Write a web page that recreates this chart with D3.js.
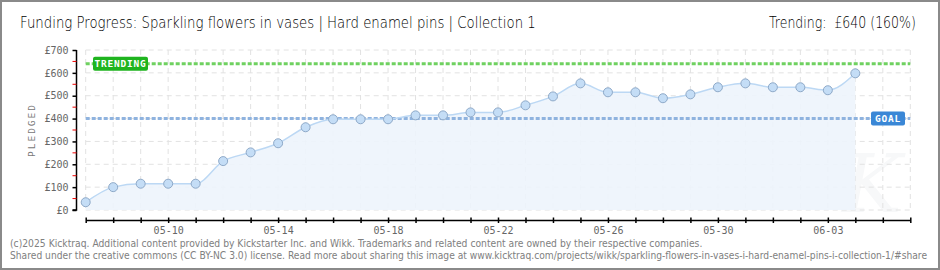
<!DOCTYPE html>
<html>
<head>
<meta charset="utf-8">
<script src="https://cdn.jsdelivr.net/npm/d3@7"></script>
<style>
  body { margin: 0; background: #fff; }
  svg { display: block; }
</style>
</head>
<body>
<div id="chart"></div>
<script>
// values
const dates = ["05-07","05-08","05-09","05-10","05-11","05-12","05-13","05-14","05-15","05-16",
               "05-17","05-18","05-19","05-20","05-21","05-22","05-23","05-24","05-25","05-26",
               "05-27","05-28","05-29","05-30","05-31","06-01","06-02","06-03","06-04"];
const pledged = [34,100,115,115,115,214,252,292,362,397,
                 397,397,414,414,427,427,458,497,554,515,
                 515,489,506,537,554,537,537,524,598];
const xTickLabels = ["05-10","05-14","05-18","05-22","05-26","05-30","06-03"];
const yTicks = [0,100,200,300,400,500,600,700];
const goal = 400;
const trending = 640;
const titleText = "Funding Progress: Sparkling flowers in vases | Hard enamel pins | Collection 1";
const trendText = "Trending:  £640 (160%)";
const footer1 = "(c)2025 Kicktraq. Additional content provided by Kickstarter Inc. and Wikk. Trademarks and related content are owned by their respective companies.";
const footer2 = "Shared under the creative commons (CC BY-NC 3.0) license. Read more about sharing this image at www.kicktraq.com/projects/wikk/sparkling-flowers-in-vases-i-hard-enamel-pins-i-collection-1/#share";

let W = 940, H = 270;
let parse = s => new Date(Date.UTC(2025, +s.slice(0,2) - 1, +s.slice(3)));
let data = dates.map((d, i) => ({date: parse(d), value: pledged[i]}));

let x = d3.scaleUtc()
          .domain([parse("05-07"), parse("06-06")])
          .range([85.7, 910.3]);
let y = d3.scaleLinear()
          .domain([0, 700])
          .range([210, 50]);

let svg = d3.select("#chart").append("svg")
            .attr("width", W).attr("height", H);

// frame
svg.append("rect")
   .attr("x", 1).attr("y", 1).attr("width", W - 2).attr("height", H - 2)
   .attr("fill", "#fff").attr("stroke", "#8a8a8a").attr("stroke-width", 2);

// squeeze a text horizontally to a given width (keeps glyph height)
function fitText(txt, tx, ty, width, font, size, weight, col) {
  let t = svg.append("text")
     .attr("font-family", font)
     .attr("font-weight", weight)
     .attr("font-size", size).attr("fill", col)
     .style("white-space", "pre")
     .text(txt);
  let sx = width / t.node().getComputedTextLength();
  t.attr("transform", "translate(" + tx + "," + ty + ") scale(" + sx + ",1)");
  return t;
}

// title + trending
fitText(titleText, 20, 28, 516, "'DejaVu Sans'", 16, 200, "#000");
fitText(trendText, 769, 28, 147, "'DejaVu Sans'", 16, 200, "#000");

// watermark
svg.append("text")
   .attr("x", 872).attr("y", 212)
   .attr("text-anchor", "middle")
   .attr("font-family", "'DejaVu Serif'")
   .attr("font-style", "italic")
   .attr("font-size", 80).attr("fill", "#f7f8f9")
   .text("K");

let days = d3.utcDay.range(parse("05-07"), d3.utcDay.offset(parse("06-06"), 1));

// grid
svg.append("g").selectAll("line").data(days).join("line")
   .attr("x1", d => x(d)).attr("x2", d => x(d))
   .attr("y1", y(700)).attr("y2", y(0))
   .attr("stroke", "#e2e2e2").attr("stroke-dasharray", "5,4");
svg.append("g").selectAll("line").data(yTicks).join("line")
   .attr("x1", x.range()[0]).attr("x2", x.range()[1])
   .attr("y1", d => y(d)).attr("y2", d => y(d))
   .attr("stroke", "#e2e2e2").attr("stroke-dasharray", "5,4");

// area + line
svg.append("path")
   .datum(data)
   .attr("fill", "#edf4fc")
   .attr("opacity", 0.9)
   .attr("d", d3.area()
      .curve(d3.curveMonotoneX)
      .x(d => x(d.date))
      .y0(y(0))
      .y1(d => y(d.value)));

// goal and trending lines
svg.append("line")
   .attr("x1", x.range()[0]).attr("x2", x.range()[1])
   .attr("y1", y(goal)).attr("y2", y(goal))
   .attr("stroke", "#8fb3df").attr("stroke-width", 3).attr("stroke-dasharray", "4,2");
svg.append("line")
   .attr("x1", x.range()[0]).attr("x2", x.range()[1])
   .attr("y1", y(trending)).attr("y2", y(trending))
   .attr("stroke", "#6fd160").attr("stroke-width", 3).attr("stroke-dasharray", "4,2");

svg.append("path")
   .datum(data)
   .attr("fill", "none")
   .attr("stroke", "#bcd8f4")
   .attr("stroke-width", 1.5)
   .attr("d", d3.line()
      .curve(d3.curveMonotoneX)
      .x(d => x(d.date))
      .y(d => y(d.value)));

svg.append("g").selectAll("circle").data(data).join("circle")
   .attr("cx", d => x(d.date)).attr("cy", d => y(d.value))
   .attr("r", 4.5)
   .attr("fill", "#c4ddf6").attr("stroke", "#8ea9c8").attr("stroke-width", 1);

// labels on the reference lines
function tag(cx, cy, w, txt, col) {
  svg.append("rect")
     .attr("x", cx - w / 2).attr("y", cy - 7).attr("width", w).attr("height", 14)
     .attr("rx", 2).attr("fill", col);
  svg.append("text")
     .attr("x", cx).attr("y", cy + 3.5)
     .attr("text-anchor", "middle")
     .attr("font-family", "'DejaVu Sans Mono'")
     .attr("font-weight", "bold")
     .attr("font-size", 9.5).attr("fill", "#fff")
     .attr("letter-spacing", 0.8)
     .text(txt);
}
tag(120.5, y(trending), 55, "TRENDING", "#1fb41f");
tag(888, y(goal), 34, "GOAL", "#3a87d6");

// y axis
let yAxis = svg.append("g")
   .attr("transform", "translate(76.5,0)")
   .call(d3.axisLeft(y).tickValues(yTicks).tickSize(4).tickFormat(d => "£" + d));
yAxis.select(".domain").attr("d", "M0," + y(700) + "V" + y(0) + "H-4").attr("stroke", "#000").attr("stroke-width", 1.5);
yAxis.selectAll(".tick line").attr("stroke", "#000").attr("stroke-width", 1.5);
yAxis.selectAll(".tick text")
   .attr("x", -8)
   .attr("font-family", "'DejaVu Sans Mono'")
   .attr("font-size", 10).attr("fill", "#666");
yAxis.append("g").selectAll("line").data(d3.range(50, 700, 100)).join("line")
   .attr("x1", -4).attr("x2", 0)
   .attr("y1", d => y(d)).attr("y2", d => y(d))
   .attr("stroke", "#e00").attr("stroke-width", 1);

svg.append("text")
   .attr("transform", "translate(35,130) rotate(-90)")
   .attr("text-anchor", "middle")
   .attr("font-family", "'DejaVu Sans Mono'")
   .attr("font-size", 9.5).attr("fill", "#777")
   .attr("letter-spacing", 2)
   .text("PLEDGED");

// x axis
let xAxis = svg.append("g")
   .attr("transform", "translate(0,220)")
   .call(d3.axisBottom(x).tickValues(days).tickSizeInner(3).tickSizeOuter(0)
          .tickFormat(d => {
            let s = d3.utcFormat("%m-%d")(d);
            return xTickLabels.includes(s) ? s : "";
          }));
xAxis.select(".domain").attr("stroke", "#000").attr("stroke-width", 1.5);
xAxis.selectAll(".tick line").attr("y1", -2.5).attr("y2", 3).attr("stroke", "#000").attr("stroke-width", 1.5);
xAxis.selectAll(".tick text")
   .attr("y", 7)
   .attr("font-family", "'DejaVu Sans Mono'")
   .attr("font-size", 10).attr("fill", "#666");

// footer
fitText(footer1, 10, 247, 693, "'DejaVu Sans'", 10, "normal", "#808080");
fitText(footer2, 10, 258.5, 918, "'DejaVu Sans'", 10, "normal", "#808080");

// frame border on top
svg.append("rect")
   .attr("x", 1).attr("y", 1).attr("width", W - 2).attr("height", H - 2)
   .attr("fill", "none").attr("stroke", "#8a8a8a").attr("stroke-width", 2);
</script>
</body>
</html>
